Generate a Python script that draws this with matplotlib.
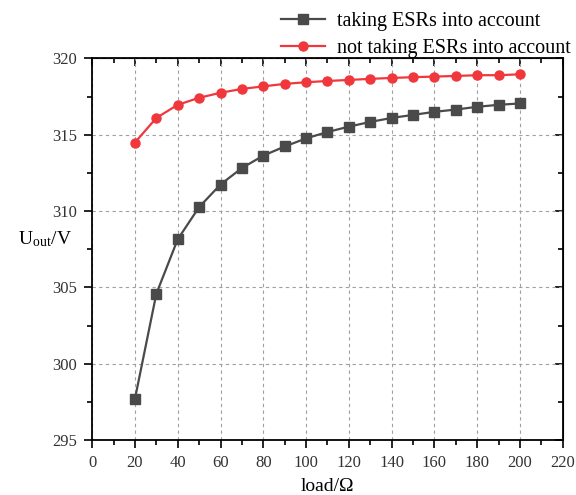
import matplotlib.pyplot as plt
from matplotlib.ticker import MultipleLocator

plt.rcParams["font.family"] = ["Liberation Serif", "DejaVu Serif"]
plt.rcParams["mathtext.fontset"] = "stix"

load = [20, 30, 40, 50, 60, 70, 80, 90, 100, 110, 120, 130, 140, 150, 160, 170, 180, 190, 200]
u_esr = [297.7, 304.58, 308.15, 310.26, 311.74, 312.82, 313.63, 314.23, 314.76, 315.18,
         315.53, 315.84, 316.1, 316.3, 316.5, 316.65, 316.83, 316.96, 317.05]
u_ideal = [314.49, 316.1, 316.96, 317.42, 317.75, 318.0, 318.17, 318.33, 318.44, 318.52,
           318.59, 318.66, 318.72, 318.77, 318.81, 318.85, 318.9, 318.9, 318.96]

fig = plt.figure(figsize=(5.76, 4.95), dpi=100)
ax = fig.add_axes([0.16, 0.111, 0.817, 0.771])

ax.plot(load, u_esr, "-s", color="#4a4a4a", lw=1.6, ms=6.5,
        label="taking ESRs into account")
ax.plot(load, u_ideal, "-o", color="#f0373c", lw=1.6, ms=6.5,
        label="not taking ESRs into account")

ax.set_xlim(0, 220)
ax.set_ylim(295, 320)
ax.xaxis.set_major_locator(MultipleLocator(20))
ax.xaxis.set_minor_locator(MultipleLocator(10))
ax.yaxis.set_major_locator(MultipleLocator(5))
ax.yaxis.set_minor_locator(MultipleLocator(2.5))
ax.grid(True, which="major", ls=(0, (3, 3)), color="#a0a0a0", lw=0.8)

ax.tick_params(which="both", direction="out", labelsize=12, colors="black",
               labelcolor="#333333", width=1.2, pad=5)
ax.tick_params(which="major", length=6)
ax.tick_params(which="minor", length=3.5)
for s in ax.spines.values():
    s.set_linewidth(1.3)

# mirrored inward ticks on top/right
axt = ax.secondary_xaxis("top")
axt.xaxis.set_major_locator(MultipleLocator(20))
axt.xaxis.set_minor_locator(MultipleLocator(10))
axt.tick_params(which="both", direction="in", labeltop=False, width=1.2)
axt.tick_params(which="major", length=6)
axt.tick_params(which="minor", length=3.5)
axr = ax.secondary_yaxis("right")
axr.yaxis.set_major_locator(MultipleLocator(5))
axr.yaxis.set_minor_locator(MultipleLocator(2.5))
axr.tick_params(which="both", direction="in", labelright=False, width=1.2)
axr.tick_params(which="major", length=6)
axr.tick_params(which="minor", length=3.5)

ax.set_xlabel("load/Ω", fontsize=14)
ax.xaxis.set_label_coords(0.5, -0.1)
ax.set_ylabel(r"U$_{\mathregular{out}}$/V", fontsize=14, rotation=0)
ax.yaxis.set_label_coords(-0.1, 0.5)

ax.legend(loc="lower right", bbox_to_anchor=(1.035, 0.98), frameon=False,
          fontsize=14.5, handlelength=2.2, borderaxespad=0, labelspacing=0.4,
          handletextpad=0.6)

fig.savefig("out.png", dpi=100)
